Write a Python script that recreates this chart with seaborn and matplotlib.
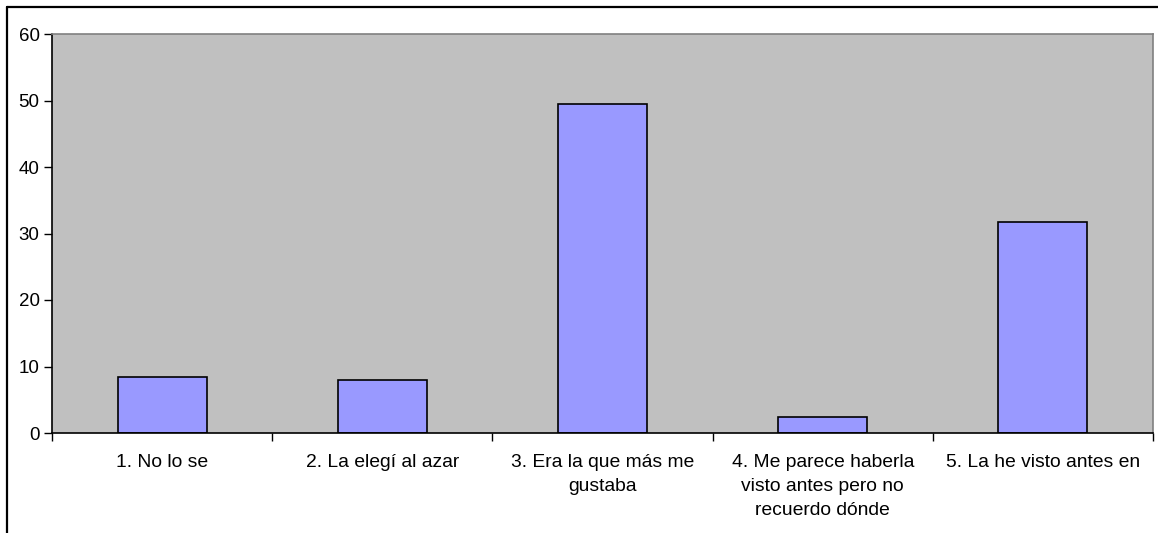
import matplotlib
matplotlib.use("Agg")
import matplotlib.pyplot as plt
from matplotlib.lines import Line2D
import seaborn as sns
import pandas as pd
import numpy as np

categories = [
    "1. No lo se",
    "2. La elegí al azar",
    "3. Era la que más me\ngustaba",
    "4. Me parece haberla\nvisto antes pero no\nrecuerdo dónde",
    "5. La he visto antes en",
]
values = [8.4, 7.9, 49.4, 2.4, 31.8]
y_ticks = [0, 10, 20, 30, 40, 50, 60]

sns.set_style("white")
plt.rcParams["font.family"] = ["Liberation Sans", "DejaVu Sans"]
plt.rcParams["text.color"] = "black"
plt.rcParams["xtick.color"] = "black"
plt.rcParams["ytick.color"] = "black"

df = pd.DataFrame({"cat": categories, "val": values})

fig = plt.figure(figsize=(11.58, 5.33), dpi=100)
ax = fig.add_axes([52 / 1158, 1 - 433 / 533, (1153 - 52) / 1158, (433 - 34) / 533])
ax.set_facecolor("#C0C0C0")

sns.barplot(data=df, x="cat", y="val", color="#9999FF", edgecolor="black",
            linewidth=1.2, width=0.405, saturation=1, ax=ax)

ax.set_xlim(-0.5, len(categories) - 0.5)
ax.set_ylim(0, 60)
ax.set_yticks(y_ticks)
ax.set_yticklabels([str(t) for t in y_ticks], fontsize=13.5, color="black")
ax.set_xlabel("")
ax.set_ylabel("")

ax.set_xticks(np.arange(len(categories)))
ax.set_xticklabels(categories, fontsize=13.9, linespacing=1.56, va="top", color="black")
ax.set_xticks(np.arange(len(categories) + 1) - 0.5, minor=True)
ax.tick_params(axis="x", which="major", length=0, pad=15)
ax.tick_params(axis="x", which="minor", length=6, width=1, color="black", direction="out", bottom=True)
ax.tick_params(axis="y", which="major", length=6, width=1, color="black", direction="out", left=True, pad=3)

for side in ["left", "bottom"]:
    ax.spines[side].set_color("black")
    ax.spines[side].set_linewidth(1.2)
    ax.spines[side].set_visible(True)
for side in ["top", "right"]:
    ax.spines[side].set_color("#808080")
    ax.spines[side].set_linewidth(1.2)
    ax.spines[side].set_visible(True)

# outer chart border (left and top only visible in crop)
fig.add_artist(Line2D([7 / 1158, 7 / 1158], [0, 1 - 7 / 533], color="black", lw=1.6,
                      transform=fig.transFigure))
fig.add_artist(Line2D([7 / 1158, 1], [1 - 7 / 533, 1 - 7 / 533], color="black", lw=1.6,
                      transform=fig.transFigure))

fig.savefig("out.png", dpi=100)
